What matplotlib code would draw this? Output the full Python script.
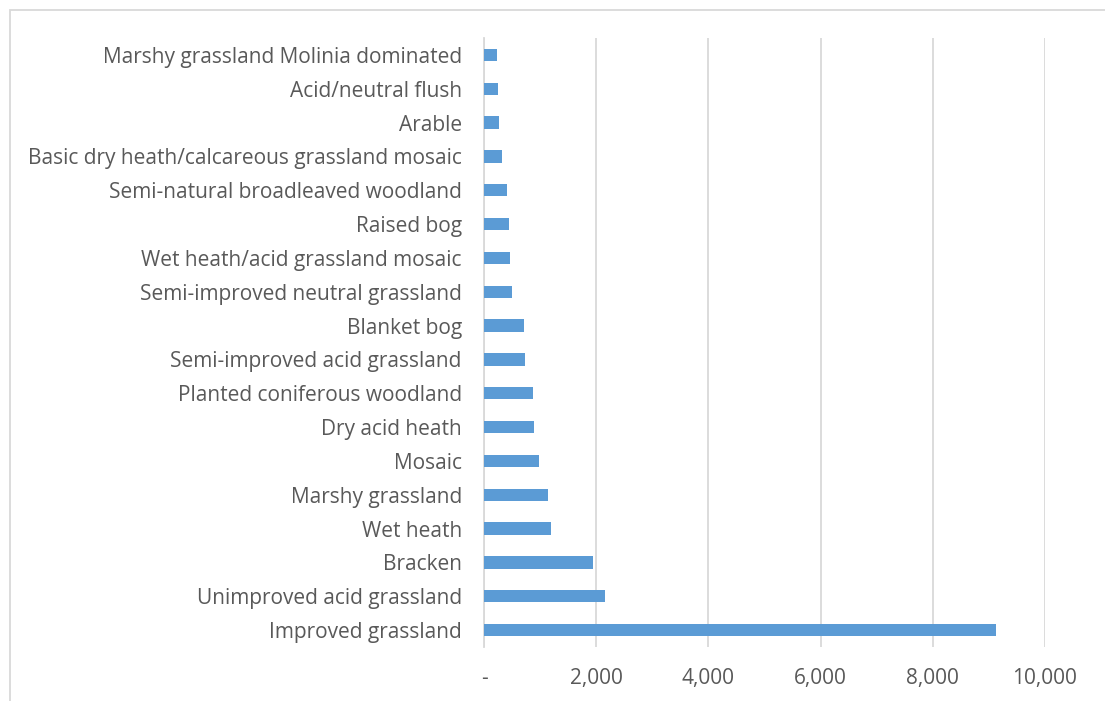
import matplotlib.pyplot as plt
from matplotlib.patches import Rectangle
from matplotlib.ticker import FuncFormatter

# habitat areas, top of chart first
habitats = [
    "Marshy grassland Molinia dominated",
    "Acid/neutral flush",
    "Arable",
    "Basic dry heath/calcareous grassland mosaic",
    "Semi-natural broadleaved woodland",
    "Raised bog",
    "Wet heath/acid grassland mosaic",
    "Semi-improved neutral grassland",
    "Blanket bog",
    "Semi-improved acid grassland",
    "Planted coniferous woodland",
    "Dry acid heath",
    "Mosaic",
    "Marshy grassland",
    "Wet heath",
    "Bracken",
    "Unimproved acid grassland",
    "Improved grassland",
]
areas = [237, 249, 267, 315, 410, 445, 463, 499, 712, 725,
         873, 890, 980, 1145, 1187, 1936, 2149, 9118]
xticks = [0, 2000, 4000, 6000, 8000, 10000]

plt.rcParams['font.family'] = ['Open Sans', 'DejaVu Sans']
txt = '#595959'
grid = '#d9d9d9'

fig = plt.figure(figsize=(11.05, 7.01), dpi=100)
fig.patches.append(Rectangle((10 / 1105, -0.1), 1.2, 1 - 10 / 701 + 0.1,
                             transform=fig.transFigure, fill=False,
                             edgecolor=grid, linewidth=1.3))
ax = fig.add_axes([484 / 1105, 1 - 647 / 701, (1045 - 484) / 1105, (647 - 38) / 701])

ypos = list(range(len(habitats)))[::-1]
ax.barh(ypos, areas, height=0.36, color='#5b9bd5', zorder=3)

ax.set_xlim(0, 10000)
ax.set_ylim(-0.5, len(habitats) - 0.5)
ax.set_yticks(ypos)
ax.set_yticklabels(habitats)
ax.set_xticks(xticks)
ax.xaxis.set_major_formatter(FuncFormatter(lambda v, p: '-' if v == 0 else f'{int(v):,}'))

ax.grid(axis='x', color=grid, linewidth=1.3, zorder=0)
for s in ['top', 'right', 'bottom']:
    ax.spines[s].set_visible(False)
ax.spines['left'].set_color(grid)
ax.spines['left'].set_linewidth(1.3)
ax.tick_params(axis='y', length=0, pad=16, labelsize=15, labelcolor=txt)
ax.tick_params(axis='x', length=0, pad=15, labelsize=15, labelcolor=txt)

fig.savefig('out.png', dpi=100)
